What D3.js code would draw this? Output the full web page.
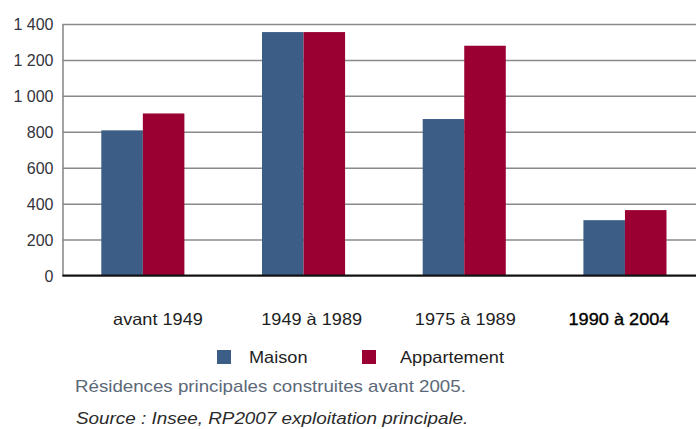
<!DOCTYPE html>
<html>
<head>
<meta charset="utf-8">
<script src="https://cdn.jsdelivr.net/npm/d3@7"></script>
<style>
  html, body { margin: 0; padding: 0; background: #fff; }
  svg { display: block; font-family: "Liberation Sans", Arial, sans-serif; }
</style>
</head>
<body>
<svg id="chart" width="696" height="429"></svg>
<script>
// Résidences principales par période de construction (milliers)
const periods = ["avant 1949", "1949 à 1989", "1975 à 1989", "1990 à 2004"];
const seriesNames = ["Maison", "Appartement"];
const maison = [808, 1355, 871, 308];
const appartement = [902, 1355, 1279, 364];
const yTicks = [0, 200, 400, 600, 800, 1000, 1200, 1400];
const caption = "Résidences principales construites avant 2005.";
const source = "Source : Insee, RP2007 exploitation principale.";

const colors = { Maison: "#3c5d86", Appartement: "#9a0031" };

const svg = d3.select("#chart");
const margin = { left: 62.5, top: 24, bottom: 275.5 };
const plotRight = margin.left + 4 * 160.7;

const x = d3.scaleBand().domain(periods).range([margin.left, plotRight])
  .paddingInner(0.483).paddingOuter(0.2415);
const xs = d3.scaleBand().domain(seriesNames).range([0, x.bandwidth()]);
const y = d3.scaleLinear().domain([0, 1400]).range([margin.bottom, margin.top]);

// widen text horizontally by a factor, keeping its anchor
function stretch(sel, factor, anchor) {
  sel.each(function () {
    const t = d3.select(this);
    const w = this.getComputedTextLength();
    t.attr("textLength", w * factor).attr("lengthAdjust", "spacingAndGlyphs");
    if (anchor) t.attr("text-anchor", anchor);
  });
}

// horizontal gridlines
const yAxis = d3.axisLeft(y).tickValues(yTicks).tickSize(-(696 - margin.left)).tickFormat("");
const grid = svg.append("g").attr("transform", `translate(${margin.left},0)`).call(yAxis);
grid.select(".domain").attr("stroke", "#666").attr("stroke-width", 1.2);
grid.selectAll(".tick line").attr("stroke", "#8a8a8a").attr("stroke-width", 1.5);

// y tick labels
svg.append("g").selectAll("text").data(yTicks).join("text")
  .attr("x", 53.5).attr("y", d => y(d) + 6)
  .attr("font-size", 16).attr("fill", "#33343c")
  .attr("text-anchor", "end")
  .text(d => d3.format(",")(d).replace(/,/g, " "));

// bars
const groups = svg.append("g").selectAll("g").data(periods).join("g")
  .attr("transform", d => `translate(${x(d)},0)`);
groups.selectAll("rect")
  .data((d, i) => [
    { s: "Maison", v: maison[i] },
    { s: "Appartement", v: appartement[i] }
  ])
  .join("rect")
  .attr("x", d => xs(d.s))
  .attr("width", xs.bandwidth())
  .attr("y", d => y(d.v))
  .attr("height", d => y(0) - y(d.v))
  .attr("fill", d => colors[d.s]);

// baseline
svg.append("line")
  .attr("x1", margin.left).attr("x2", 696)
  .attr("y1", y(0)).attr("y2", y(0))
  .attr("stroke", "#111").attr("stroke-width", 2);

// category labels
const xl = d3.scalePoint().domain(periods).range([158, 619]);
svg.append("g").selectAll("text").data(periods).join("text")
  .attr("x", d => xl(d)).attr("y", 324.5)
  .attr("font-size", 16.5)
  .attr("fill", (d, i) => i === periods.length - 1 ? "#000" : "#1e1e1e")
  .attr("stroke", (d, i) => i === periods.length - 1 ? "#000" : "none")
  .attr("stroke-width", 0.35)
  .text(d => d)
  .call(stretch, 1.1, "middle");

// legend
const legendX = d3.scalePoint().domain(seriesNames).range([217, 362]);
const lg = svg.append("g").selectAll("g").data(seriesNames).join("g")
  .attr("transform", d => `translate(${legendX(d)},350)`);
lg.append("rect").attr("width", 14).attr("height", 14).attr("fill", d => colors[d]);
lg.append("text").attr("x", d => d === "Maison" ? 32 : 38).attr("y", 13)
  .attr("font-size", 16.5).attr("fill", "#1e1e1e")
  .text(d => d)
  .call(stretch, 1.1);

// notes
svg.append("text").attr("x", 75).attr("y", 391.5)
  .attr("font-size", 17).attr("fill", "#5b6878")
  .text(caption).call(stretch, 1.1);
svg.append("text").attr("x", 76).attr("y", 423.5)
  .attr("font-size", 17).attr("font-style", "italic").attr("fill", "#2a2a2a")
  .text(source).call(stretch, 1.11);
</script>
</body>
</html>
